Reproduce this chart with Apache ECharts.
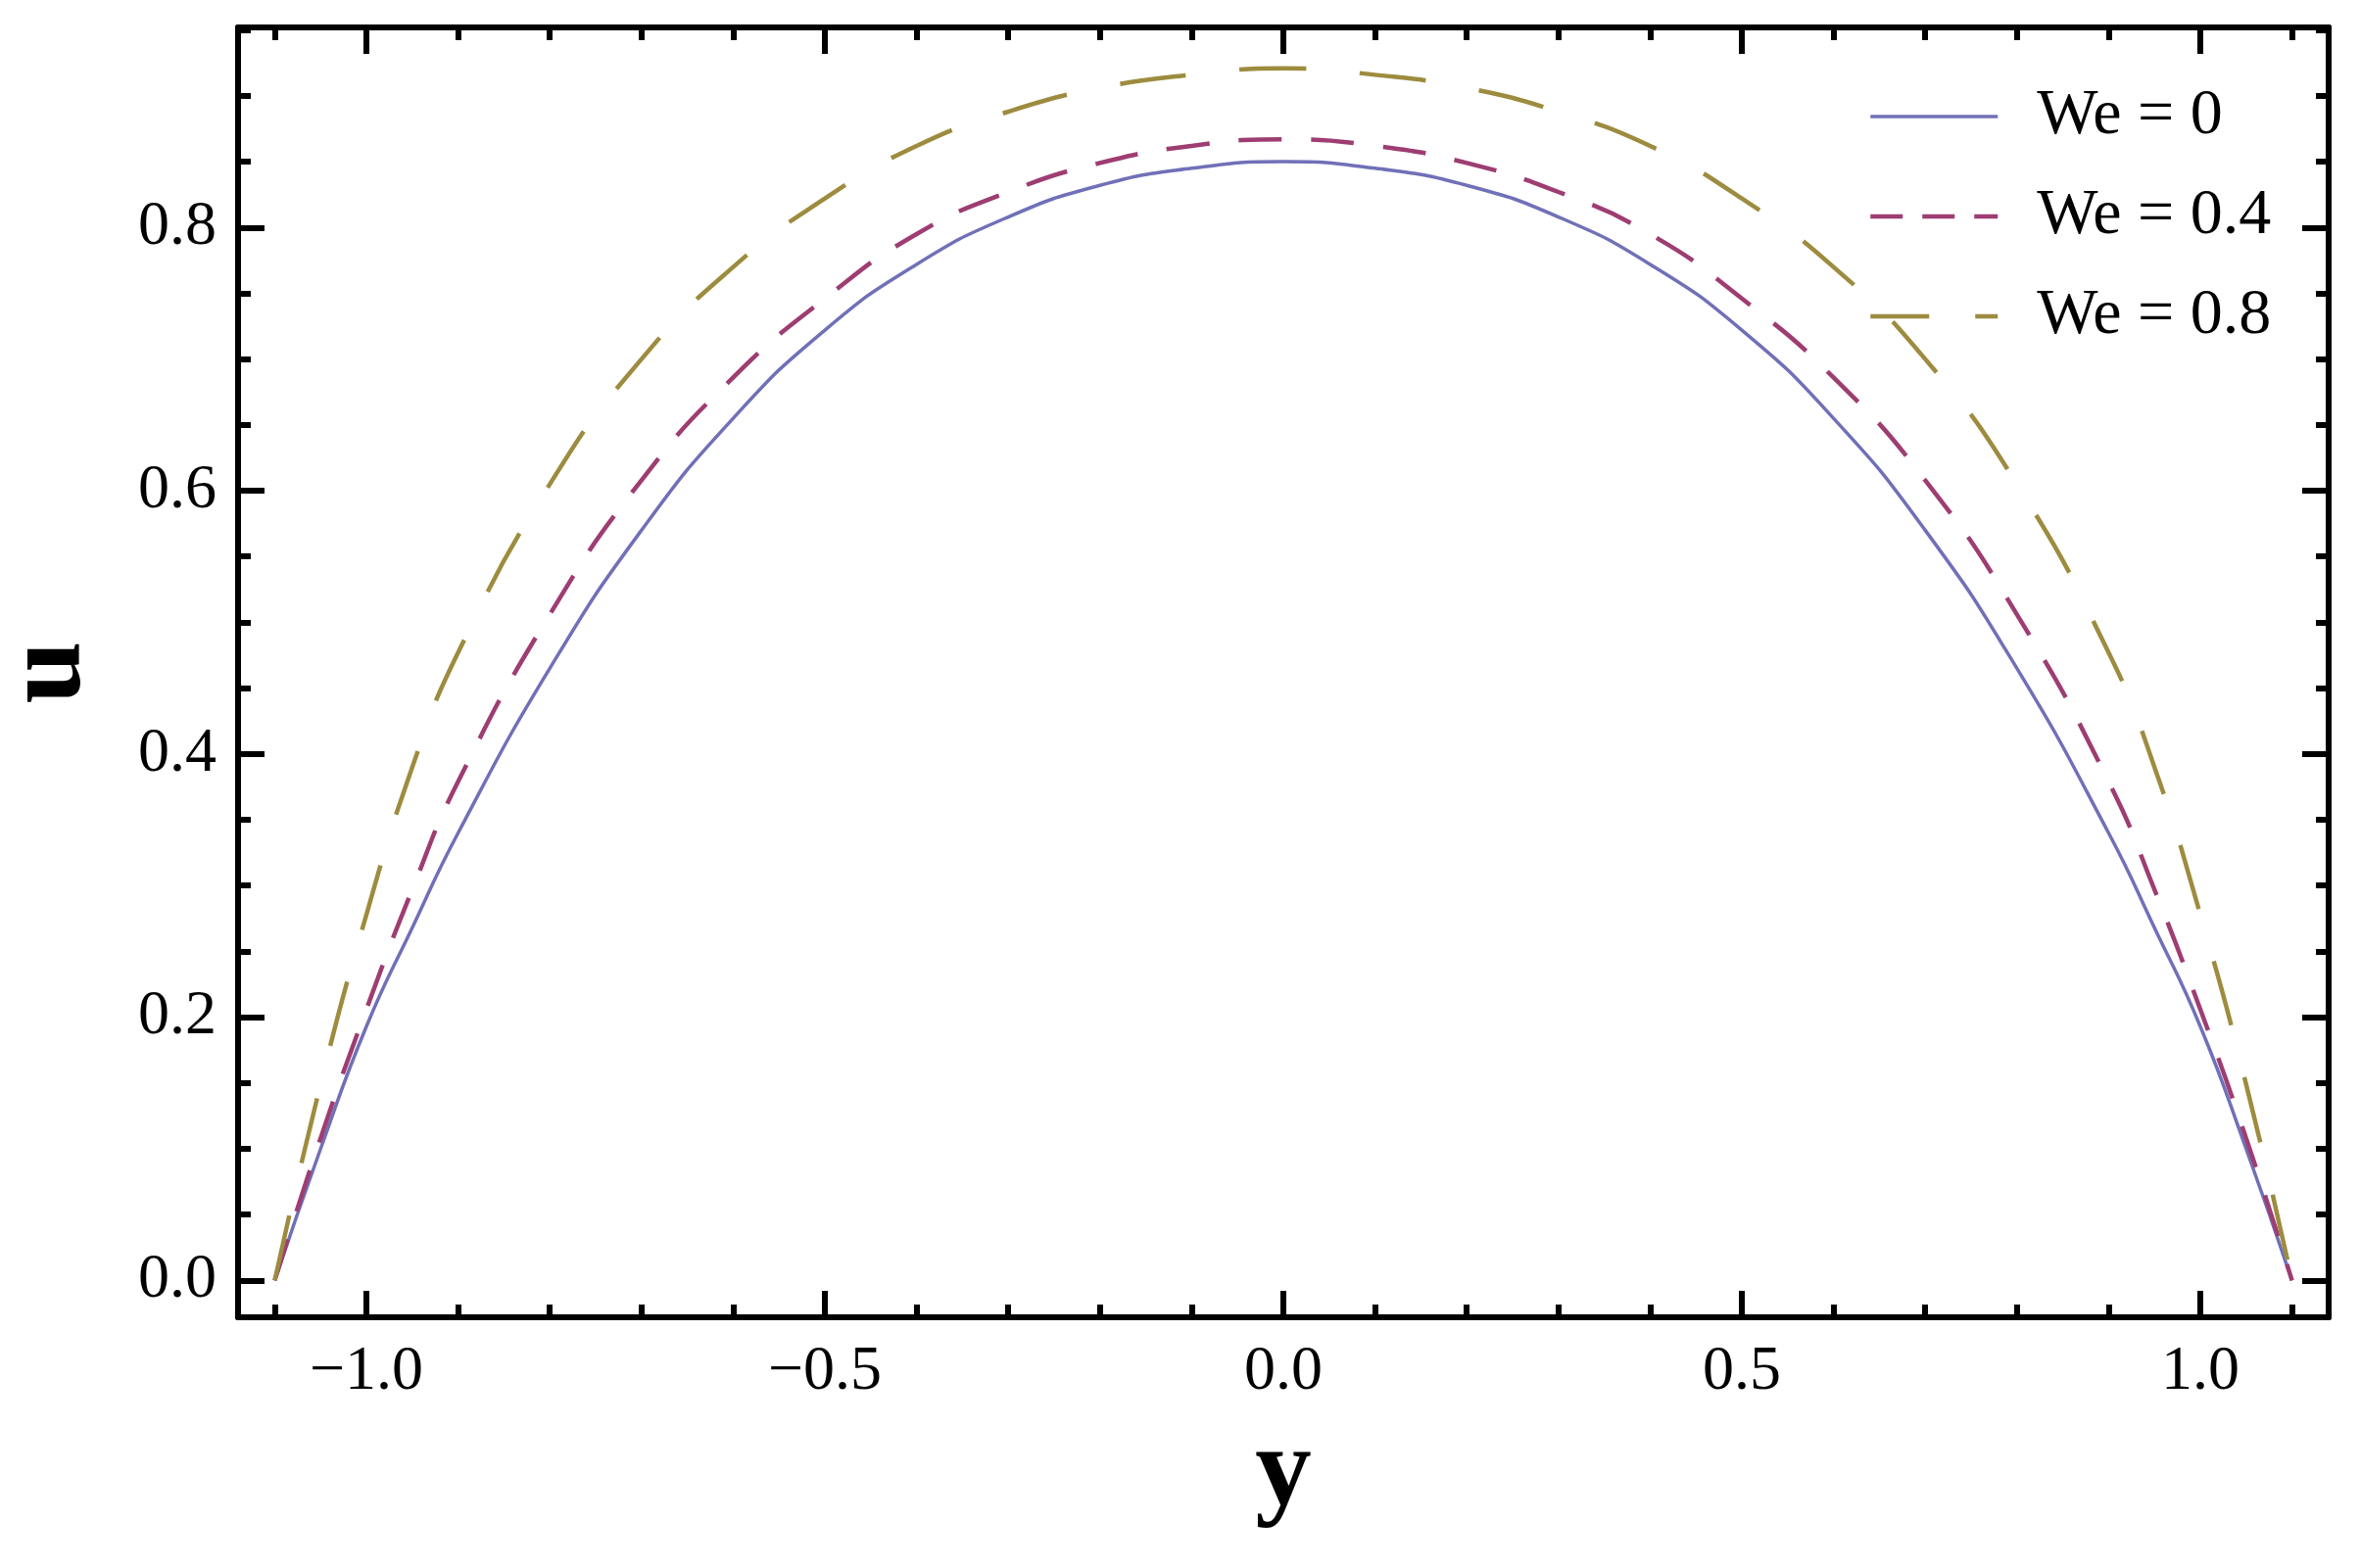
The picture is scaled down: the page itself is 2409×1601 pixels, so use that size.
<!DOCTYPE html>
<html>
<head>
<meta charset="utf-8">
<script src="https://cdn.jsdelivr.net/npm/echarts@6/dist/echarts.min.js"></script>
<style>
  html, body { margin: 0; padding: 0; background: #fff; }
  #chart { width: 2409px; height: 1601px; }
</style>
</head>
<body>
<div id="chart"></div>
<script>
// channel coordinate y and velocity u for three Weissenberg numbers
var yVals = [-1.1, -1.05, -1.0, -0.95, -0.9, -0.8, -0.7, -0.6, -0.5, -0.4, -0.3, -0.2, -0.1, 0,
             0.1, 0.2, 0.3, 0.4, 0.5, 0.6, 0.7, 0.8, 0.9, 0.95, 1.0, 1.05, 1.1];
var uWe0  = [0, 0.100, 0.193, 0.268, 0.340, 0.465, 0.570, 0.655, 0.722, 0.772, 0.808, 0.832, 0.845, 0.850,
             0.845, 0.832, 0.808, 0.772, 0.722, 0.655, 0.570, 0.465, 0.340, 0.268, 0.193, 0.100, 0];
var uWe04 = [0, 0.108, 0.206, 0.297, 0.379, 0.506, 0.608, 0.686, 0.746, 0.795, 0.827, 0.849, 0.862, 0.867,
             0.862, 0.849, 0.827, 0.795, 0.746, 0.686, 0.608, 0.506, 0.379, 0.297, 0.206, 0.108, 0];
var uWe08 = [0, 0.149, 0.278, 0.390, 0.477, 0.605, 0.700, 0.770, 0.822, 0.862, 0.888, 0.906, 0.916, 0.921,
             0.916, 0.906, 0.888, 0.862, 0.822, 0.770, 0.700, 0.605, 0.477, 0.390, 0.278, 0.149, 0];
var seriesNames = ['We = 0', 'We = 0.4', 'We = 0.8'];

var xMajor = [-1.0, -0.5, 0, 0.5, 1.0];
var xMinor = [-1.1, -0.9, -0.8, -0.7, -0.6, -0.4, -0.3, -0.2, -0.1, 0.1, 0.2, 0.3, 0.4, 0.6, 0.7, 0.8, 0.9, 1.1];
var yMajor = [0, 0.2, 0.4, 0.6, 0.8];
var yMinor = [0.05, 0.1, 0.15, 0.25, 0.3, 0.35, 0.45, 0.5, 0.55, 0.65, 0.7, 0.75, 0.85, 0.9, 0.95];

var font = "'Liberation Serif', 'DejaVu Serif', serif";

function pairs(u) {
  return yVals.map(function (y, i) { return [y, u[i]]; });
}
function fmt(v) {
  return v < 0 ? '\u2212' + Math.abs(v).toFixed(1) : v.toFixed(1);
}

function axis(pos, ticks, len, withLine, extra) {
  var a = {
    type: 'value',
    position: pos,
    splitLine: { show: false },
    axisLine: { show: withLine, onZero: false, lineStyle: { color: '#000', width: 6 } },
    axisTick: { show: true, inside: true, length: len, customValues: ticks,
                lineStyle: { color: '#000', width: 6 } },
    axisLabel: { show: false }
  };
  return Object.assign(a, extra || {});
}

var xr = { min: -1.14, max: 1.14 };
var yr = { min: -0.028, max: 0.952 };

var chart = echarts.init(document.getElementById('chart'));
chart.setOption({
  backgroundColor: '#fff',
  animation: false,
  grid: { left: 243, right: 32, top: 28, bottom: 256, outerBoundsMode: 'none' },
  legend: {
    orient: 'vertical',
    left: 1902,
    top: 81,
    itemWidth: 130,
    itemHeight: 20,
    itemGap: 36,
    itemStyle: { opacity: 0, borderWidth: 0 },
    textStyle: { fontFamily: font, fontSize: 66, color: '#000', lineHeight: 64, padding: [0, 0, 0, 35] },
    data: [
      { name: seriesNames[0], lineStyle: { width: 3.5 } },
      { name: seriesNames[1], lineStyle: { width: 4.5, type: [33, 20] } },
      { name: seriesNames[2], lineStyle: { width: 4.5, type: [60, 47] } }
    ]
  },
  xAxis: [
    axis('bottom', xMajor, 27, true, Object.assign({
      name: 'y', nameLocation: 'middle', nameGap: 104,
      nameTextStyle: { fontFamily: font, fontSize: 115, fontWeight: 'bold', color: '#000' },
      axisLabel: { show: true, customValues: xMajor, formatter: fmt, margin: 24,
                   fontFamily: font, fontSize: 64, color: '#000' }
    }, xr)),
    axis('bottom', xMinor, 13, false, Object.assign({}, xr)),
    axis('top', xMajor, 27, true, Object.assign({}, xr)),
    axis('top', xMinor, 13, false, Object.assign({}, xr))
  ],
  yAxis: [
    axis('left', yMajor, 27, true, Object.assign({
      name: 'u', nameLocation: 'middle', nameGap: 134, nameRotate: 90,
      nameTextStyle: { fontFamily: font, fontSize: 115, fontWeight: 'bold', color: '#000' },
      axisLabel: { show: true, customValues: yMajor, formatter: fmt, margin: 22,
                   fontFamily: font, fontSize: 64, color: '#000' }
    }, yr)),
    axis('left', yMinor, 13, false, Object.assign({}, yr)),
    axis('right', yMajor, 27, true, Object.assign({}, yr)),
    axis('right', yMinor, 13, false, Object.assign({}, yr))
  ],
  series: [
    {
      name: seriesNames[0], type: 'line', xAxisIndex: 0, yAxisIndex: 0,
      data: pairs(uWe0), smooth: 0.5, showSymbol: false, symbol: 'none',
      lineStyle: { color: '#7070b8', width: 3.5, type: 'solid' },
      itemStyle: { color: '#7070b8' }
    },
    {
      name: seriesNames[1], type: 'line', xAxisIndex: 0, yAxisIndex: 0,
      data: pairs(uWe04), smooth: 0.5, showSymbol: false, symbol: 'none',
      lineStyle: { color: '#9e3d72', width: 4.5, type: [44, 30] },
      itemStyle: { color: '#9e3d72' }
    },
    {
      name: seriesNames[2], type: 'line', xAxisIndex: 0, yAxisIndex: 0,
      data: pairs(uWe08), smooth: 0.5, showSymbol: false, symbol: 'none',
      lineStyle: { color: '#9d8c3f', width: 4.5, type: [68, 55] },
      itemStyle: { color: '#9d8c3f' }
    }
  ]
});
</script>
</body>
</html>
